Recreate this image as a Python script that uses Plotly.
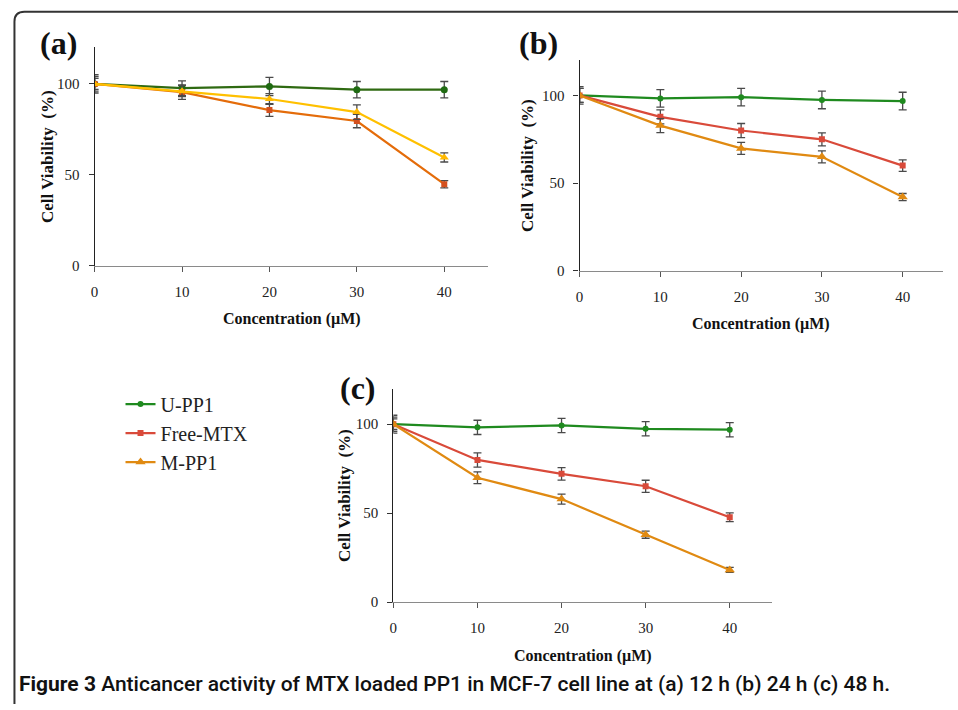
import plotly.graph_objects as go

W, H = 958, 710

conc = [0, 10, 20, 30, 40]
x_ticks = [0, 10, 20, 30, 40]
y_ticks = [0, 50, 100]
series_names = ["U-PP1", "Free-MTX", "M-PP1"]

# Panel (a) 12 h
a_upp1 = [100, 97.7, 98.6, 96.8, 96.8]
a_upp1_err = [5, 4, 5, 4.5, 4.5]
a_free = [100, 95.5, 85.6, 79.6, 44.9]
a_free_err = [4, 4, 3.5, 3.7, 2]
a_mpp1 = [100, 96, 91.7, 84.5, 59.6]
a_mpp1_err = [3, 3, 3, 4, 2.5]

# Panel (b) 24 h
b_upp1 = [100, 98.3, 99, 97.4, 96.8]
b_upp1_err = [5, 5, 5, 5, 5]
b_free = [100, 87.8, 80, 75, 60]
b_free_err = [4, 4, 4, 3.7, 3.3]
b_mpp1 = [100, 82.8, 69.8, 65, 42.1]
b_mpp1_err = [4, 4, 3.4, 3.4, 2]

# Panel (c) 48 h
c_upp1 = [100, 98.2, 99.3, 97.4, 96.9]
c_upp1_err = [5, 4, 4, 4, 4]
c_free = [100, 79.9, 72.1, 65.1, 47.7]
c_free_err = [4, 4, 3.5, 3.4, 2.5]
c_mpp1 = [100, 69.9, 57.9, 37.9, 18.1]
c_mpp1_err = [3, 3.3, 2.8, 2, 1.4]

SERIF = "Liberation Serif, Times New Roman, serif"
ERR = "#4a4a4a"

fig = go.Figure()

def add(xa, ya, y, err, color, mcolor, symbol, size, name, showlegend):
    fig.add_trace(go.Scatter(
        x=conc, y=y, mode="lines+markers", name=name,
        xaxis=xa, yaxis=ya, showlegend=showlegend, legendgroup=name,
        line=dict(color=color, width=2.2),
        marker=dict(color=mcolor, symbol=symbol, size=size),
        error_y=dict(type="data", array=err, visible=True,
                     color=ERR, thickness=1.3, width=4),
    ))

# (a)
add("x", "y", a_upp1, a_upp1_err, "#2f6a12", "#1f6a12", "circle", 7, series_names[0], False)
add("x", "y", a_free, a_free_err, "#e46c0a", "#d4501e", "square", 6, series_names[1], False)
add("x", "y", a_mpp1, a_mpp1_err, "#ffc000", "#ffb800", "triangle-up", 8, series_names[2], False)
# (b)
add("x2", "y2", b_upp1, b_upp1_err, "#1f8a1f", "#1f8a1f", "circle", 6, series_names[0], False)
add("x2", "y2", b_free, b_free_err, "#d94a3a", "#d94a3a", "square", 6, series_names[1], False)
add("x2", "y2", b_mpp1, b_mpp1_err, "#e08a12", "#e08a12", "triangle-up", 9, series_names[2], False)
# (c)
add("x3", "y3", c_upp1, c_upp1_err, "#1f8a1f", "#1f8a1f", "circle", 6, series_names[0], True)
add("x3", "y3", c_free, c_free_err, "#d94a3a", "#d94a3a", "square", 6, series_names[1], True)
add("x3", "y3", c_mpp1, c_mpp1_err, "#e08a12", "#e08a12", "triangle-up", 9, series_names[2], True)

# screen pixel -> paper fraction
fx = lambda p: p / W
fy = lambda p: (H - p) / H

def px_x(a, b):
    return [fx(a), fx(b)]

def px_y(top, bottom):
    return [fy(bottom), fy(top)]

def xax(dom, anchor):
    return dict(domain=dom, anchor=anchor, range=[0, 45], tickvals=x_ticks,
                showgrid=False, zeroline=False, showline=True,
                linecolor="#8a8a8a", linewidth=1.3, ticks="outside",
                ticklen=5, tickcolor="#555", ticklabelstandoff=7,
                tickfont=dict(family=SERIF, size=15, color="#222"))

def yax(dom, anchor):
    return dict(domain=dom, anchor=anchor, range=[0, 120], tickvals=y_ticks,
                showgrid=False, zeroline=False, showline=True,
                linecolor="#222", linewidth=1.2, ticks="outside",
                ticklen=5, tickcolor="#333", ticklabelstandoff=6,
                tickfont=dict(family=SERIF, size=15, color="#222"))

fig.update_layout(
    width=W, height=H, autosize=False,
    margin=dict(l=0, r=0, t=0, b=0),
    paper_bgcolor="white", plot_bgcolor="white",
    xaxis=xax(px_x(91, 486), "y"), yaxis=yax(px_y(48, 269), "x"),
    xaxis2=xax(px_x(578, 943), "y2"), yaxis2=yax(px_y(61, 274), "x2"),
    xaxis3=xax(px_x(391, 771), "y3"), yaxis3=yax(px_y(393, 609), "x3"),
    legend=dict(x=fx(117), y=fy(389), xanchor="left", yanchor="top",
                font=dict(family=SERIF, size=20, color="#222"),
                bgcolor="rgba(0,0,0,0)", traceorder="grouped",
                tracegroupgap=0, itemwidth=30),
)

ann = []
def text(x, y, s, size, bold=True, angle=0, family=SERIF, xanchor="center", color="#111"):
    ann.append(dict(x=fx(x), y=fy(y), xref="paper", yref="paper",
                    text=("<b>%s</b>" % s) if bold else s, showarrow=False,
                    font=dict(family=family, size=size, color=color),
                    textangle=angle, xanchor=xanchor, yanchor="middle"))

text(55, 43, "(a)", 32)
text(537, 43, "(b)", 32)
text(355, 392, "(c)", 32)
text(289, 323, "Concentration (µM)", 16)
text(760, 328, "Concentration (µM)", 16)
text(581, 663, "Concentration (µM)", 16)
text(43, 158, "Cell Viability  (%)", 17, angle=-90)
text(525, 167, "Cell Viability  (%)", 17, angle=-90)
text(342, 501, "Cell Viability  (%)", 17, angle=-90)
ann.append(dict(x=fx(13), y=fy(692), xref="paper", yref="paper",
                showarrow=False, xanchor="left", yanchor="middle",
                text="<b>Figure 3</b><span style='font-weight:500'> Anticancer activity of MTX loaded PP1 in MCF-7 cell line at (a) 12 h (b) 24 h (c) 48 h.</span>",
                font=dict(family="Liberation Sans Narrow, Arial Narrow, Roboto, sans-serif",
                          size=21, color="#111")))
fig.update_layout(annotations=ann)

# rounded frame (top and left edges)
path = "M %f,%f L %f,%f Q %f,%f %f,%f L %f,%f" % (
    fx(10.5), fy(712), fx(10.5), fy(22), fx(10.5), fy(12), fx(20.5), fy(12), fx(960), fy(12))
fig.add_shape(type="path", path=path, xref="paper", yref="paper",
              line=dict(color="#333", width=2))

fig.write_html("out.html", config={"displayModeBar": False},
               post_script="document.body.style.margin='0';document.body.style.overflow='hidden';")
